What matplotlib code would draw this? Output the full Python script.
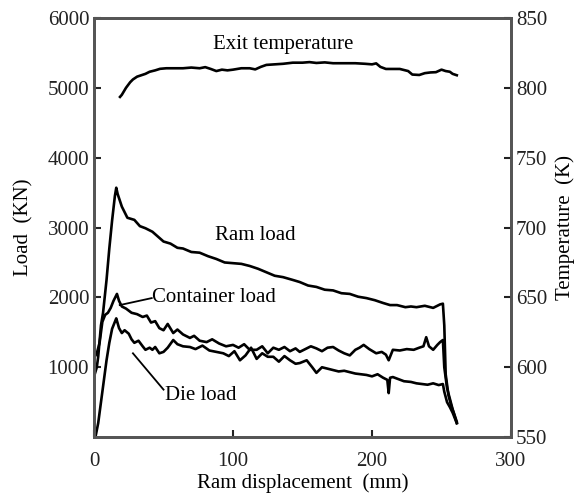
import matplotlib
matplotlib.use("Agg")
import matplotlib.pyplot as plt

plt.rcParams['font.family'] = ['Liberation Serif', 'DejaVu Serif']

# ram load (mm, kN)
ram_x = [0.5, 2, 3, 5, 6.5, 9, 11, 13, 15, 16, 17, 20, 24, 29, 33, 37, 42, 46, 50,
         55, 60, 64, 70, 76, 82, 88, 94, 100, 106, 112, 118, 124, 130, 136, 143,
         148, 154, 160, 166, 172, 178, 184, 190, 196, 202, 208, 213, 218, 224, 228,
         232, 238, 244, 249, 251, 252, 253, 255, 257, 259, 261]
ram_y = [900, 1000, 1150, 1600, 1780, 2250, 2700, 3100, 3450, 3570, 3480, 3300, 3140,
         3110, 3020, 2990, 2940, 2870, 2800, 2770, 2710, 2700, 2650, 2640, 2590, 2550,
         2500, 2490, 2480, 2450, 2410, 2360, 2310, 2290, 2250, 2220, 2170, 2150, 2110,
         2100, 2060, 2050, 2010, 1990, 1960, 1920, 1890, 1890, 1860, 1870, 1860, 1880,
         1850, 1900, 1910, 1600, 900, 600, 450, 330, 200]

# container load
cont_x = [0.5, 2, 4, 6, 8, 10, 12, 14, 16.5, 18, 20, 23, 27, 31, 35, 38, 41, 44, 47,
          50, 53, 57, 60, 64, 69, 72, 76, 81, 85, 90, 95, 100, 104, 108, 112, 117, 121,
          125, 129, 133, 137, 141, 145, 148, 152, 156, 160, 164, 168, 172, 176, 180,
          184, 188, 191, 194, 198, 203, 207, 210, 212, 215, 220, 225, 230, 234, 237,
          239, 241, 244, 247, 249, 251, 252, 254, 256, 258, 261]
cont_y = [1150, 1200, 1350, 1650, 1750, 1780, 1850, 1950, 2050, 1950, 1870, 1840, 1780,
          1760, 1720, 1740, 1640, 1660, 1560, 1530, 1620, 1490, 1540, 1470, 1420, 1450,
          1380, 1360, 1400, 1340, 1300, 1320, 1280, 1330, 1250, 1250, 1300, 1200, 1280,
          1250, 1290, 1230, 1270, 1220, 1260, 1300, 1270, 1230, 1280, 1290, 1240, 1200,
          1170, 1250, 1280, 1320, 1260, 1200, 1220, 1180, 1100, 1250, 1240, 1260, 1250,
          1280, 1300, 1430, 1300, 1250, 1320, 1360, 1390, 1000, 700, 550, 400, 220]

# die load
die_x = [1, 3, 5, 7, 9, 11, 13, 15, 16, 18, 20, 22, 25, 27, 29, 32, 35, 37, 40, 42, 44,
         47, 50, 53, 57, 60, 64, 69, 73, 78, 83, 88, 93, 97, 101, 105, 109, 113, 117,
         121, 125, 129, 133, 137, 141, 145, 148, 153, 157, 160, 164, 168, 172, 176, 180,
         184, 188, 192, 196, 200, 204, 208, 211, 212, 213, 215, 219, 223, 228, 232, 236,
         240, 244, 248, 251, 252, 254, 256, 258, 261]
die_y = [0, 200, 500, 800, 1100, 1350, 1550, 1650, 1700, 1560, 1490, 1530, 1480, 1400,
         1350, 1380, 1300, 1250, 1280, 1250, 1290, 1200, 1220, 1280, 1390, 1330, 1300,
         1290, 1260, 1310, 1240, 1220, 1200, 1160, 1230, 1100, 1170, 1280, 1120, 1200,
         1150, 1150, 1080, 1160, 1100, 1050, 1060, 1100, 1000, 920, 1000, 980, 960, 940,
         950, 930, 910, 900, 890, 870, 900, 850, 820, 630, 850, 860, 830, 800, 790, 770,
         760, 750, 770, 745, 760, 650, 500, 430, 350, 200]

# exit temperature (K)
temp_x = [18.7, 20, 23, 26, 28, 31, 34, 37, 40, 44, 47.5, 52, 58, 64, 70, 76, 80, 84,
          88, 92, 96, 100, 106, 112, 116, 120, 124, 130, 136, 143, 150, 155, 160, 166,
          172, 180, 188, 195, 200, 203, 206, 210, 220, 226, 229, 234, 238, 242, 246,
          250, 253, 256, 258, 261]
temp_y = [793.5, 795, 800, 804, 806, 808, 809, 810, 811.5, 812.5, 813.6, 814, 814, 814,
          814.5, 814, 814.8, 813.5, 812, 813, 812.5, 813, 814, 814, 813.2, 815, 816.4,
          816.8, 817.2, 818, 818, 818.4, 817.8, 818.2, 817.6, 817.6, 817.6, 817.2, 816.8,
          817.5, 815, 813.5, 813.5, 812, 809.5, 809.2, 810.5, 811, 811.2, 813, 812,
          811.5, 810, 809]

x_ticks = [0, 100, 200, 300]
load_ticks = [1000, 2000, 3000, 4000, 5000, 6000]
temp_ticks = [550, 600, 650, 700, 750, 800, 850]

fig = plt.figure(figsize=(5.84, 4.99), dpi=100)
ax = fig.add_axes([0.161, 0.124, 0.714, 0.840])
ax2 = ax.twinx()

lw = 1.9
ax.plot(ram_x, ram_y, color='black', lw=lw)
ax.plot(cont_x, cont_y, color='black', lw=lw)
ax.plot(die_x, die_y, color='black', lw=lw)
ax2.plot(temp_x, temp_y, color='black', lw=lw)

ax.set_xlim(0, 300)
ax.set_ylim(0, 6000)
ax2.set_ylim(550, 850)

ax.set_xticks(x_ticks)
ax.set_yticks(load_ticks)
ax2.set_yticks(temp_ticks)

for a in (ax, ax2):
    for s in a.spines.values():
        s.set_linewidth(2)
        s.set_color('#555555')
ax.tick_params(direction='in', length=5, width=1.5, labelsize=15, colors='#222222',
               right=False, top=False)
ax.tick_params(axis='x', pad=11)
ax2.tick_params(direction='in', length=5, width=1.5, labelsize=15, colors='#222222')

ax.set_xlabel('Ram displacement  (mm)', fontsize=15, labelpad=1)
ax.set_ylabel('Load  (KN)', fontsize=15, labelpad=10)
ax2.set_ylabel('Temperature  (K)', fontsize=15, labelpad=6)

ax.text(136, 5616, 'Exit temperature', fontsize=15, ha='center', va='center')
ax.text(116, 2880, 'Ram load', fontsize=15, ha='center', va='center')
ax.text(42, 2005, 'Container load', fontsize=15, ha='left', va='center')
ax.text(51, 590, 'Die load', fontsize=15, ha='left', va='center')
ax.plot([18.5, 41.5], [1890, 1990], color='black', lw=1.3)
ax.plot([28, 50], [1200, 680], color='black', lw=1.3)

fig.savefig('out.png', dpi=100)
